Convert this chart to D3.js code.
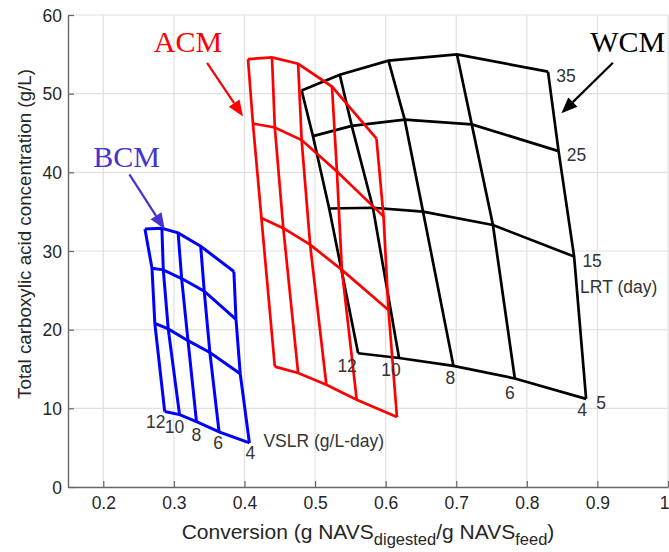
<!DOCTYPE html>
<html>
<head>
<meta charset="utf-8">
<script src="https://cdn.jsdelivr.net/npm/d3@7"></script>
<style>
  html, body { margin: 0; padding: 0; background: #fff; }
  svg { display: block; }
</style>
</head>
<body>
<svg id="chart" width="669" height="552"></svg>
<script>
// ---------- data ----------
const xTicks = [0.2, 0.3, 0.4, 0.5, 0.6, 0.7, 0.8, 0.9, 1];
const yTicks = [0, 10, 20, 30, 40, 50, 60];
const lrtValues = [35, 25, 15, 5];          // rows (curves)
const vslrValues = [12, 10, 8, 6, 4];       // columns

// BCM grid: rows = LRT 35,25,15,5 ; columns = VSLR 12,10,8,6,4
const bcmConversion = [
  [0.259, 0.283, 0.306, 0.338, 0.385],
  [0.269, 0.285, 0.311, 0.343, 0.388],
  [0.273, 0.292, 0.320, 0.351, 0.394],
  [0.287, 0.308, 0.332, 0.364, 0.407]
];
const bcmConcentration = [
  [32.8, 32.9, 32.3, 30.6, 27.4],
  [27.8, 27.6, 26.5, 24.9, 21.3],
  [20.8, 20.1, 18.6, 17.1, 14.4],
  [9.6, 9.2, 8.3, 7.0, 5.6]
];

// ACM grid
const acmConversion = [
  [0.405, 0.439, 0.476, 0.524, 0.587],
  [0.412, 0.443, 0.481, 0.531, 0.597],
  [0.424, 0.455, 0.493, 0.538, 0.604],
  [0.443, 0.476, 0.516, 0.559, 0.616]
];
const acmConcentration = [
  [54.4, 54.6, 53.8, 50.9, 44.3],
  [46.2, 45.7, 44.1, 40.1, 34.4],
  [34.2, 32.9, 30.8, 27.6, 22.5],
  [15.3, 14.5, 13.0, 11.1, 8.9]
];

// WCM grid
const wcmConversion = [
  [0.481, 0.535, 0.604, 0.701, 0.830],
  [0.497, 0.552, 0.627, 0.722, 0.845],
  [0.520, 0.582, 0.653, 0.752, 0.867],
  [0.561, 0.619, 0.696, 0.783, 0.884]
];
const wcmConcentration = [
  [50.4, 52.4, 54.2, 55.0, 52.8],
  [44.6, 45.9, 46.7, 46.1, 42.7],
  [35.4, 35.5, 35.0, 33.3, 29.3],
  [17.0, 16.4, 15.4, 13.8, 11.2]
];

const modelNames = ["BCM", "ACM", "WCM"];

// ---------- layout ----------
const svg = d3.select("#chart");
const pLeft = 68, pRight = 668, pTop = 15, pBottom = 487;
const x = d3.scaleLinear().domain([0.15, 1]).range([pLeft, pRight]);
const y = d3.scaleLinear().domain([0, 60]).range([pBottom, pTop]);

const sans = "'Liberation Sans', Arial, Helvetica, sans-serif";
const serif = "'Liberation Serif', 'Times New Roman', serif";
const textColor = "#262626";

// grid
const grid = svg.append("g");
grid.selectAll("line.vx").data(xTicks).join("line")
  .attr("x1", d => x(d)).attr("x2", d => x(d))
  .attr("y1", pTop).attr("y2", pBottom)
  .attr("stroke", "#e0e0e0").attr("stroke-width", 1.2);
grid.selectAll("line.hy").data(yTicks.filter(d => d > 0)).join("line")
  .attr("x1", pLeft).attr("x2", pRight)
  .attr("y1", d => y(d)).attr("y2", d => y(d))
  .attr("stroke", "#e0e0e0").attr("stroke-width", 1.2);

// axes
const xAxis = svg.append("g").attr("transform", `translate(0,${pBottom})`)
  .call(d3.axisBottom(x).tickValues(xTicks).tickFormat(d3.format("~g"))
        .tickSizeInner(-6).tickSizeOuter(0).tickPadding(10));
const yAxis = svg.append("g").attr("transform", `translate(${pLeft},0)`)
  .call(d3.axisLeft(y).tickValues(yTicks).tickFormat(d3.format("d"))
        .tickSizeInner(-6).tickSizeOuter(0).tickPadding(6));
[xAxis, yAxis].forEach(g => {
  g.select(".domain").attr("stroke", "#666").attr("stroke-width", 1.4);
  g.selectAll(".tick line").attr("stroke", "#666").attr("stroke-width", 1.2);
  g.selectAll(".tick text").attr("fill", textColor)
    .style("font-family", sans).style("font-size", "17.5px");
});
yAxis.selectAll(".tick text").attr("dy", "0.36em");
// keep the last x tick label inside the picture
xAxis.selectAll(".tick text").filter(d => d === 1).attr("text-anchor", "end").attr("x", 1);

// axis titles
const xt = svg.append("text")
  .attr("x", (pLeft + pRight) / 2).attr("y", 539)
  .attr("text-anchor", "middle").attr("fill", textColor)
  .style("font-family", sans).style("font-size", "21px");
xt.append("tspan").text("Conversion (g NAVS");
xt.append("tspan").attr("dy", 6).style("font-size", "16.5px").text("digested");
xt.append("tspan").attr("dy", -6).text("/g NAVS");
xt.append("tspan").attr("dy", 6).style("font-size", "16.5px").text("feed");
xt.append("tspan").attr("dy", -6).text(")");

svg.append("text")
  .attr("transform", `translate(31,234) rotate(-90)`)
  .attr("text-anchor", "middle").attr("fill", textColor)
  .style("font-family", sans).style("font-size", "18.8px")
  .text("Total carboxylic acid concentration (g/L)");

// ---------- grids ----------
function drawGrid(conv, conc, color, width) {
  const g = svg.append("g").attr("fill", "none").attr("stroke", color)
    .attr("stroke-width", width).attr("stroke-linejoin", "miter");
  const line = d3.line().x(d => x(d[0])).y(d => y(d[1]));
  const rows = conv.map((r, i) => r.map((c, j) => [c, conc[i][j]]));
  g.selectAll("path.row").data(rows).join("path").attr("class", "row").attr("d", line);
  const cols = vslrValues.map((v, j) => conv.map((r, i) => [r[j], conc[i][j]]));
  g.selectAll("path.col").data(cols).join("path").attr("class", "col").attr("d", line);
  return g;
}

drawGrid(bcmConversion, bcmConcentration, "#0000ff", 3);
drawGrid(wcmConversion, wcmConcentration, "#000000", 2.7);
drawGrid(acmConversion, acmConcentration, "#ff0000", 2.7);

// ---------- grid value labels ----------
const labSize = "17.5px";
const lab = svg.append("g").attr("fill", "#333")
  .style("font-family", sans).style("font-size", labSize)
  .attr("text-anchor", "middle");
const last = lrtValues.length - 1;

lab.selectAll("text.lrt").data(lrtValues).join("text").attr("class", "lrt")
  .attr("x", (d, i) => x(wcmConversion[i][4]) + (i === last ? 15 : 18))
  .attr("y", (d, i) => y(wcmConcentration[i][4]) + 4)
  .attr("dy", "0.36em").text(d => d);
const wcmVOff = [[-11, 12], [-8, 12], [-3, 12], [-5, 14], [-4, 11]];
lab.selectAll("text.wv").data(vslrValues).join("text").attr("class", "wv")
  .attr("x", (d, j) => x(wcmConversion[last][j]) + wcmVOff[j][0])
  .attr("y", (d, j) => y(wcmConcentration[last][j]) + wcmVOff[j][1])
  .attr("dy", "0.36em").text(d => d);
const bcmVOff = [[-9, 10], [-5, 12], [0, 13], [-1, 11], [1, 10]];
lab.selectAll("text.bv").data(vslrValues).join("text").attr("class", "bv")
  .attr("x", (d, j) => x(bcmConversion[last][j]) + bcmVOff[j][0])
  .attr("y", (d, j) => y(bcmConcentration[last][j]) + bcmVOff[j][1])
  .attr("dy", "0.36em").text(d => d);

svg.append("text")
  .attr("x", x(bcmConversion[last][4]) + 14).attr("y", y(bcmConcentration[last][4]) - 2)
  .attr("dy", "0.36em").attr("fill", "#333")
  .style("font-family", sans).style("font-size", labSize)
  .text("VSLR (g/L-day)");
svg.append("text")
  .attr("x", x(wcmConversion[2][4]) + 6).attr("y", y(wcmConcentration[2][4]) + 30)
  .attr("dy", "0.36em").attr("fill", "#333")
  .style("font-family", sans).style("font-size", labSize)
  .text("LRT (day)");

// ---------- model annotations ----------
const annColors = ["#4433cc", "#ff0000", "#000000"];
const annText = [[0.233, 40.7], [0.320, 55.3], [0.943, 55.3]];
const annFrom = [[0.237, 39.75], [0.347, 53.9], [0.922, 53.93]];
const annTo = [[0.287, 32.76], [0.398, 47.1], [0.849, 47.5]];

modelNames.forEach((name, k) => {
  svg.append("text")
    .attr("x", x(annText[k][0])).attr("y", y(annText[k][1]))
    .attr("text-anchor", "middle").attr("fill", annColors[k])
    .style("font-family", serif).style("font-size", "30px")
    .text(name);
  const x1 = x(annFrom[k][0]), y1 = y(annFrom[k][1]);
  const x2 = x(annTo[k][0]), y2 = y(annTo[k][1]);
  const ang = Math.atan2(y2 - y1, x2 - x1);
  const L = 16, W = 6.5;
  const bx = x2 - L * Math.cos(ang), by = y2 - L * Math.sin(ang);
  svg.append("line")
    .attr("x1", x1).attr("y1", y1).attr("x2", bx).attr("y2", by)
    .attr("stroke", annColors[k]).attr("stroke-width", 2.2);
  const px = -Math.sin(ang), py = Math.cos(ang);
  svg.append("path")
    .attr("d", `M${x2},${y2}L${bx + W * px},${by + W * py}L${bx - W * px},${by - W * py}Z`)
    .attr("fill", annColors[k]);
});
</script>
</body>
</html>
